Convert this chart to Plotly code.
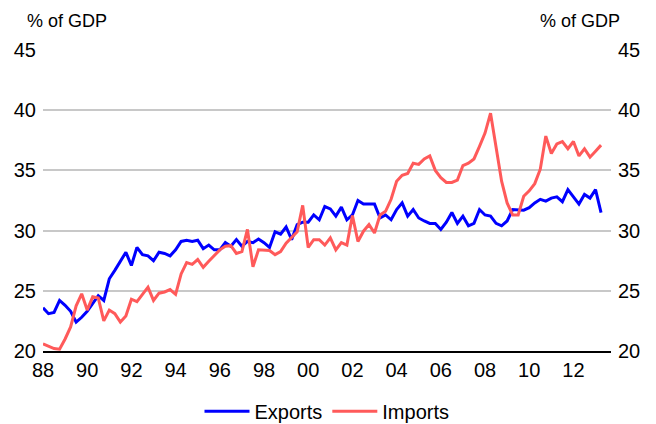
import plotly.graph_objects as go

# quarterly, 1988 Q1 to 2013 Q2
start_year = 1988

exports = [
    23.6, 23.1, 23.2, 24.2,
    23.8, 23.3, 22.4, 22.8,
    23.3, 24.0, 24.6, 24.2,
    26.0, 26.7, 27.4, 28.2,
    27.1, 28.6, 28.0, 27.9,
    27.5, 28.2, 28.1, 27.9,
    28.4, 29.1, 29.2, 29.1,
    29.2, 28.5, 28.8, 28.4,
    28.4, 29.0, 28.7, 29.25,
    28.7, 29.1, 29.0, 29.3,
    29.0, 28.6, 29.9, 29.7,
    30.3, 29.25, 30.5, 30.7,
    30.7, 31.3, 30.9, 32.0,
    31.8, 31.2, 31.95, 30.9,
    31.3, 32.5, 32.2, 32.2,
    32.2, 31.05, 31.3, 30.9,
    31.75, 32.3, 31.2, 31.75,
    31.05, 30.8, 30.6, 30.6,
    30.1, 30.7, 31.5, 30.6,
    31.2, 30.4, 30.6, 31.75,
    31.3, 31.2, 30.6, 30.4,
    30.8, 31.75, 31.75, 31.7,
    31.9, 32.3, 32.6, 32.45,
    32.7, 32.8, 32.4, 33.4,
    32.8, 32.2, 33.0, 32.7,
    33.4, 31.5,
]

imports = [
    20.6, 20.4, 20.2, 20.15,
    21.0, 22.0, 23.75, 24.75,
    23.4, 24.5, 24.4, 22.5,
    23.4, 23.1, 22.4, 22.9,
    24.3, 24.1, 24.7, 25.3,
    24.2, 24.8, 24.9, 25.1,
    24.7, 26.4, 27.35, 27.2,
    27.6, 26.95, 27.45, 27.9,
    28.4, 28.7, 28.75, 28.1,
    28.25, 30.1, 27.0, 28.4,
    28.4, 28.35, 28.0, 28.25,
    28.95, 29.45, 29.9, 32.1,
    28.6, 29.25, 29.25, 28.8,
    29.4, 28.4, 29.0, 28.8,
    31.25, 29.1, 29.95, 30.5,
    29.8, 31.3, 31.6, 32.6,
    34.1, 34.6, 34.75, 35.6,
    35.5, 35.95, 36.2, 35.0,
    34.4, 34.0, 34.0, 34.2,
    35.4, 35.6, 35.95, 37.0,
    38.1, 39.75, 37.0, 34.1,
    32.3, 31.3, 31.3, 32.85,
    33.3, 33.9, 35.1, 37.85,
    36.4, 37.2, 37.4, 36.8,
    37.4, 36.2, 36.8, 36.1,
    36.6, 37.1,
]

dates = [start_year + i / 4 for i in range(len(exports))]
tick_years = list(range(1988, 2013, 2))
tick_labels = [str(y)[2:] for y in tick_years]
y_ticks = [20, 25, 30, 35, 40, 45]

family = "Arial, Liberation Sans, sans-serif"
font = dict(family=family, size=20, color="black")
unit_font = dict(family=family, size=18, color="black")

fig = go.Figure()
fig.add_trace(go.Scatter(x=dates, y=exports, name="Exports", mode="lines",
                         line=dict(color="#0000ff", width=3)))
fig.add_trace(go.Scatter(x=dates, y=imports, name="Imports", mode="lines", yaxis="y2",
                         line=dict(color="#ff5a5a", width=3)))

# page body has an 8px margin, so the figure is 8px smaller than the window
fig.update_layout(
    width=648, height=416,
    margin=dict(l=35, r=45, t=42, b=73, autoexpand=False),
    paper_bgcolor="white", plot_bgcolor="white",
    font=font,
    xaxis=dict(range=[1988, 2013.7], tickvals=tick_years, ticktext=tick_labels,
               showgrid=False, showline=True, linecolor="black", linewidth=1.5,
               ticks="", zeroline=False),
    yaxis=dict(range=[20, 45], tickvals=y_ticks, showgrid=True, gridcolor="#c8c8c8",
               gridwidth=1.5, zeroline=False, ticks="", ticklabelstandoff=6),
    yaxis2=dict(range=[20, 45], tickvals=y_ticks, overlaying="y", side="right",
                showgrid=False, zeroline=False, ticks="", ticklabelstandoff=6),
    legend=dict(orientation="h", x=0.5, xanchor="center", y=-0.2, yanchor="middle",
                font=font, itemwidth=45),
    showlegend=True,
)
fig.add_annotation(text="% of GDP", xref="paper", yref="paper", x=-0.032, y=1.096,
                   xanchor="left", yanchor="middle", showarrow=False, font=unit_font)
fig.add_annotation(text="% of GDP", xref="paper", yref="paper", x=1.019, y=1.096,
                   xanchor="right", yanchor="middle", showarrow=False, font=unit_font)

fig.write_html("out.html")
